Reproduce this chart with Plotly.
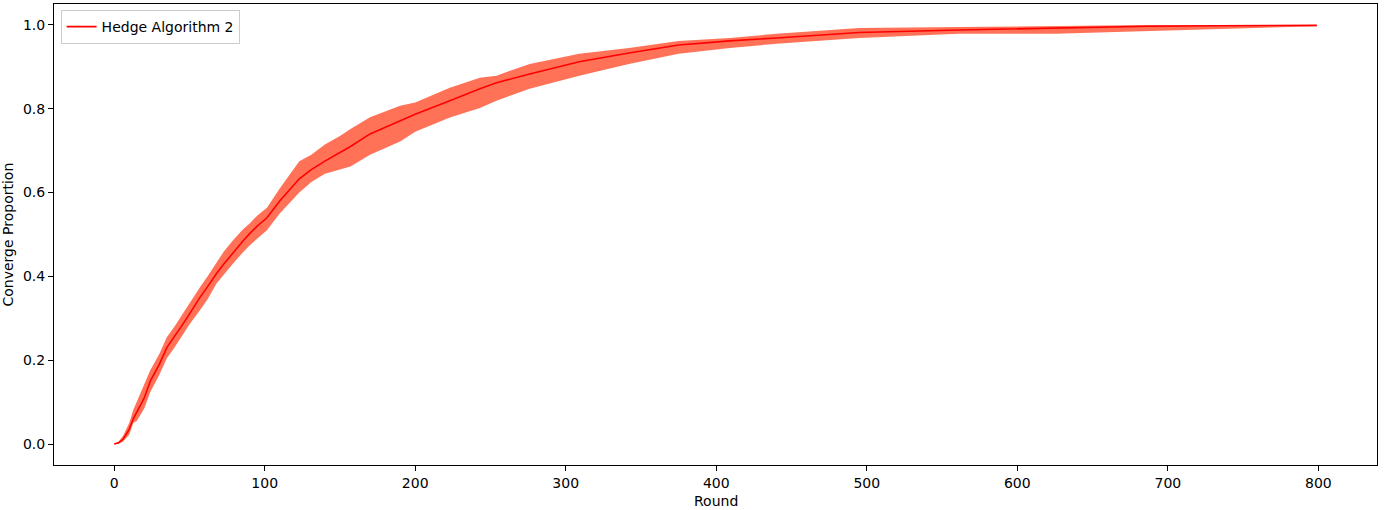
import plotly.graph_objects as go

# Mean convergence proportion
rounds = [0, 3, 6, 10, 12.7, 15, 20, 24, 30, 35, 40, 46, 50, 57, 62, 68, 73, 79, 85, 90,
          95, 101.5, 110, 123, 131, 140, 150, 157, 170, 190, 200, 223, 243, 254, 276,
          309, 342, 375, 409, 440, 495, 561, 625, 654, 687, 732, 799]
mean = [0.0, 0.003, 0.012, 0.035, 0.06, 0.075, 0.11, 0.15, 0.19, 0.23, 0.255, 0.288, 0.31,
        0.35, 0.375, 0.407, 0.43, 0.457, 0.482, 0.502, 0.52, 0.54, 0.58, 0.633, 0.655,
        0.675, 0.695, 0.71, 0.74, 0.772, 0.787, 0.819, 0.848, 0.862, 0.883, 0.912, 0.933,
        0.952, 0.962, 0.969, 0.982, 0.988, 0.993, 0.994, 0.997, 0.998, 0.999]
upper = [0.0, 0.006, 0.02, 0.05, 0.081, 0.1, 0.14, 0.176, 0.215, 0.255, 0.28, 0.314, 0.335,
         0.374, 0.4, 0.433, 0.46, 0.486, 0.51, 0.526, 0.545, 0.564, 0.61, 0.675, 0.69,
         0.715, 0.735, 0.752, 0.78, 0.807, 0.815, 0.85, 0.874, 0.879, 0.907, 0.931, 0.945,
         0.962, 0.969, 0.979, 0.993, 0.995, 0.998, 0.998, 1.0, 1.0, 1.0]
lower = [0.0, 0.001, 0.006, 0.022, 0.05, 0.055, 0.085, 0.124, 0.165, 0.205, 0.23, 0.264,
         0.285, 0.319, 0.345, 0.383, 0.405, 0.431, 0.455, 0.474, 0.49, 0.51, 0.55, 0.6,
         0.625, 0.645, 0.655, 0.662, 0.69, 0.722, 0.745, 0.779, 0.802, 0.819, 0.848, 0.879,
         0.907, 0.931, 0.945, 0.955, 0.969, 0.979, 0.979, 0.982, 0.984, 0.99, 0.997]

x_ticks = [0, 100, 200, 300, 400, 500, 600, 700, 800]
y_ticks = [0.0, 0.2, 0.4, 0.6, 0.8, 1.0]
series_name = "Hedge Algorithm 2"

fig = go.Figure()
fig.add_trace(go.Scatter(x=rounds, y=upper, mode="lines", line=dict(width=0),
                         showlegend=False, hoverinfo="skip"))
fig.add_trace(go.Scatter(x=rounds, y=lower, mode="lines", line=dict(width=0),
                         fill="tonexty", fillcolor="rgb(255,114,88)",
                         showlegend=False, hoverinfo="skip"))
fig.add_trace(go.Scatter(x=rounds, y=mean, mode="lines", name=series_name,
                         line=dict(color="red", width=1.6)))

font = "DejaVu Sans"
fig.update_layout(
    width=1384, height=510, autosize=False,
    margin=dict(l=54, r=7, t=4, b=45, autoexpand=False),
    plot_bgcolor="white", paper_bgcolor="white",
    font=dict(family=font, size=14, color="black"),
    showlegend=True,
    legend=dict(x=0.005, y=0.987, xanchor="left", yanchor="top",
                bgcolor="white", bordercolor="#cccccc", borderwidth=1,
                font=dict(size=14), tracegroupgap=0, itemwidth=30),
    annotations=[
        dict(text="Round", xref="paper", yref="paper", x=0.5, y=0,
             xanchor="center", yanchor="top", yshift=-26, showarrow=False,
             font=dict(size=14)),
        dict(text="Converge Proportion", xref="paper", yref="paper", x=0, y=0.5,
             xanchor="right", yanchor="middle", xshift=-37, textangle=-90,
             showarrow=False, font=dict(size=14)),
    ],
)
fig.update_xaxes(range=[-39.95, 838.95], tickvals=x_ticks,
                 ticktext=[str(v) for v in x_ticks], automargin=False,
                 showgrid=False, zeroline=False, showline=True, linecolor="black",
                 linewidth=1, mirror=True, ticks="outside", ticklen=5, tickcolor="black")
fig.update_yaxes(range=[-0.05, 1.05], tickvals=y_ticks,
                 ticktext=[f"{v:.1f}" for v in y_ticks], automargin=False,
                 showgrid=False, zeroline=False, showline=True, linecolor="black",
                 linewidth=1, mirror=True, ticks="outside", ticklen=5, tickcolor="black")

fig.write_html("out.html", config={"displayModeBar": False},
               post_script="document.body.style.margin='0';document.body.style.overflow='hidden';")
